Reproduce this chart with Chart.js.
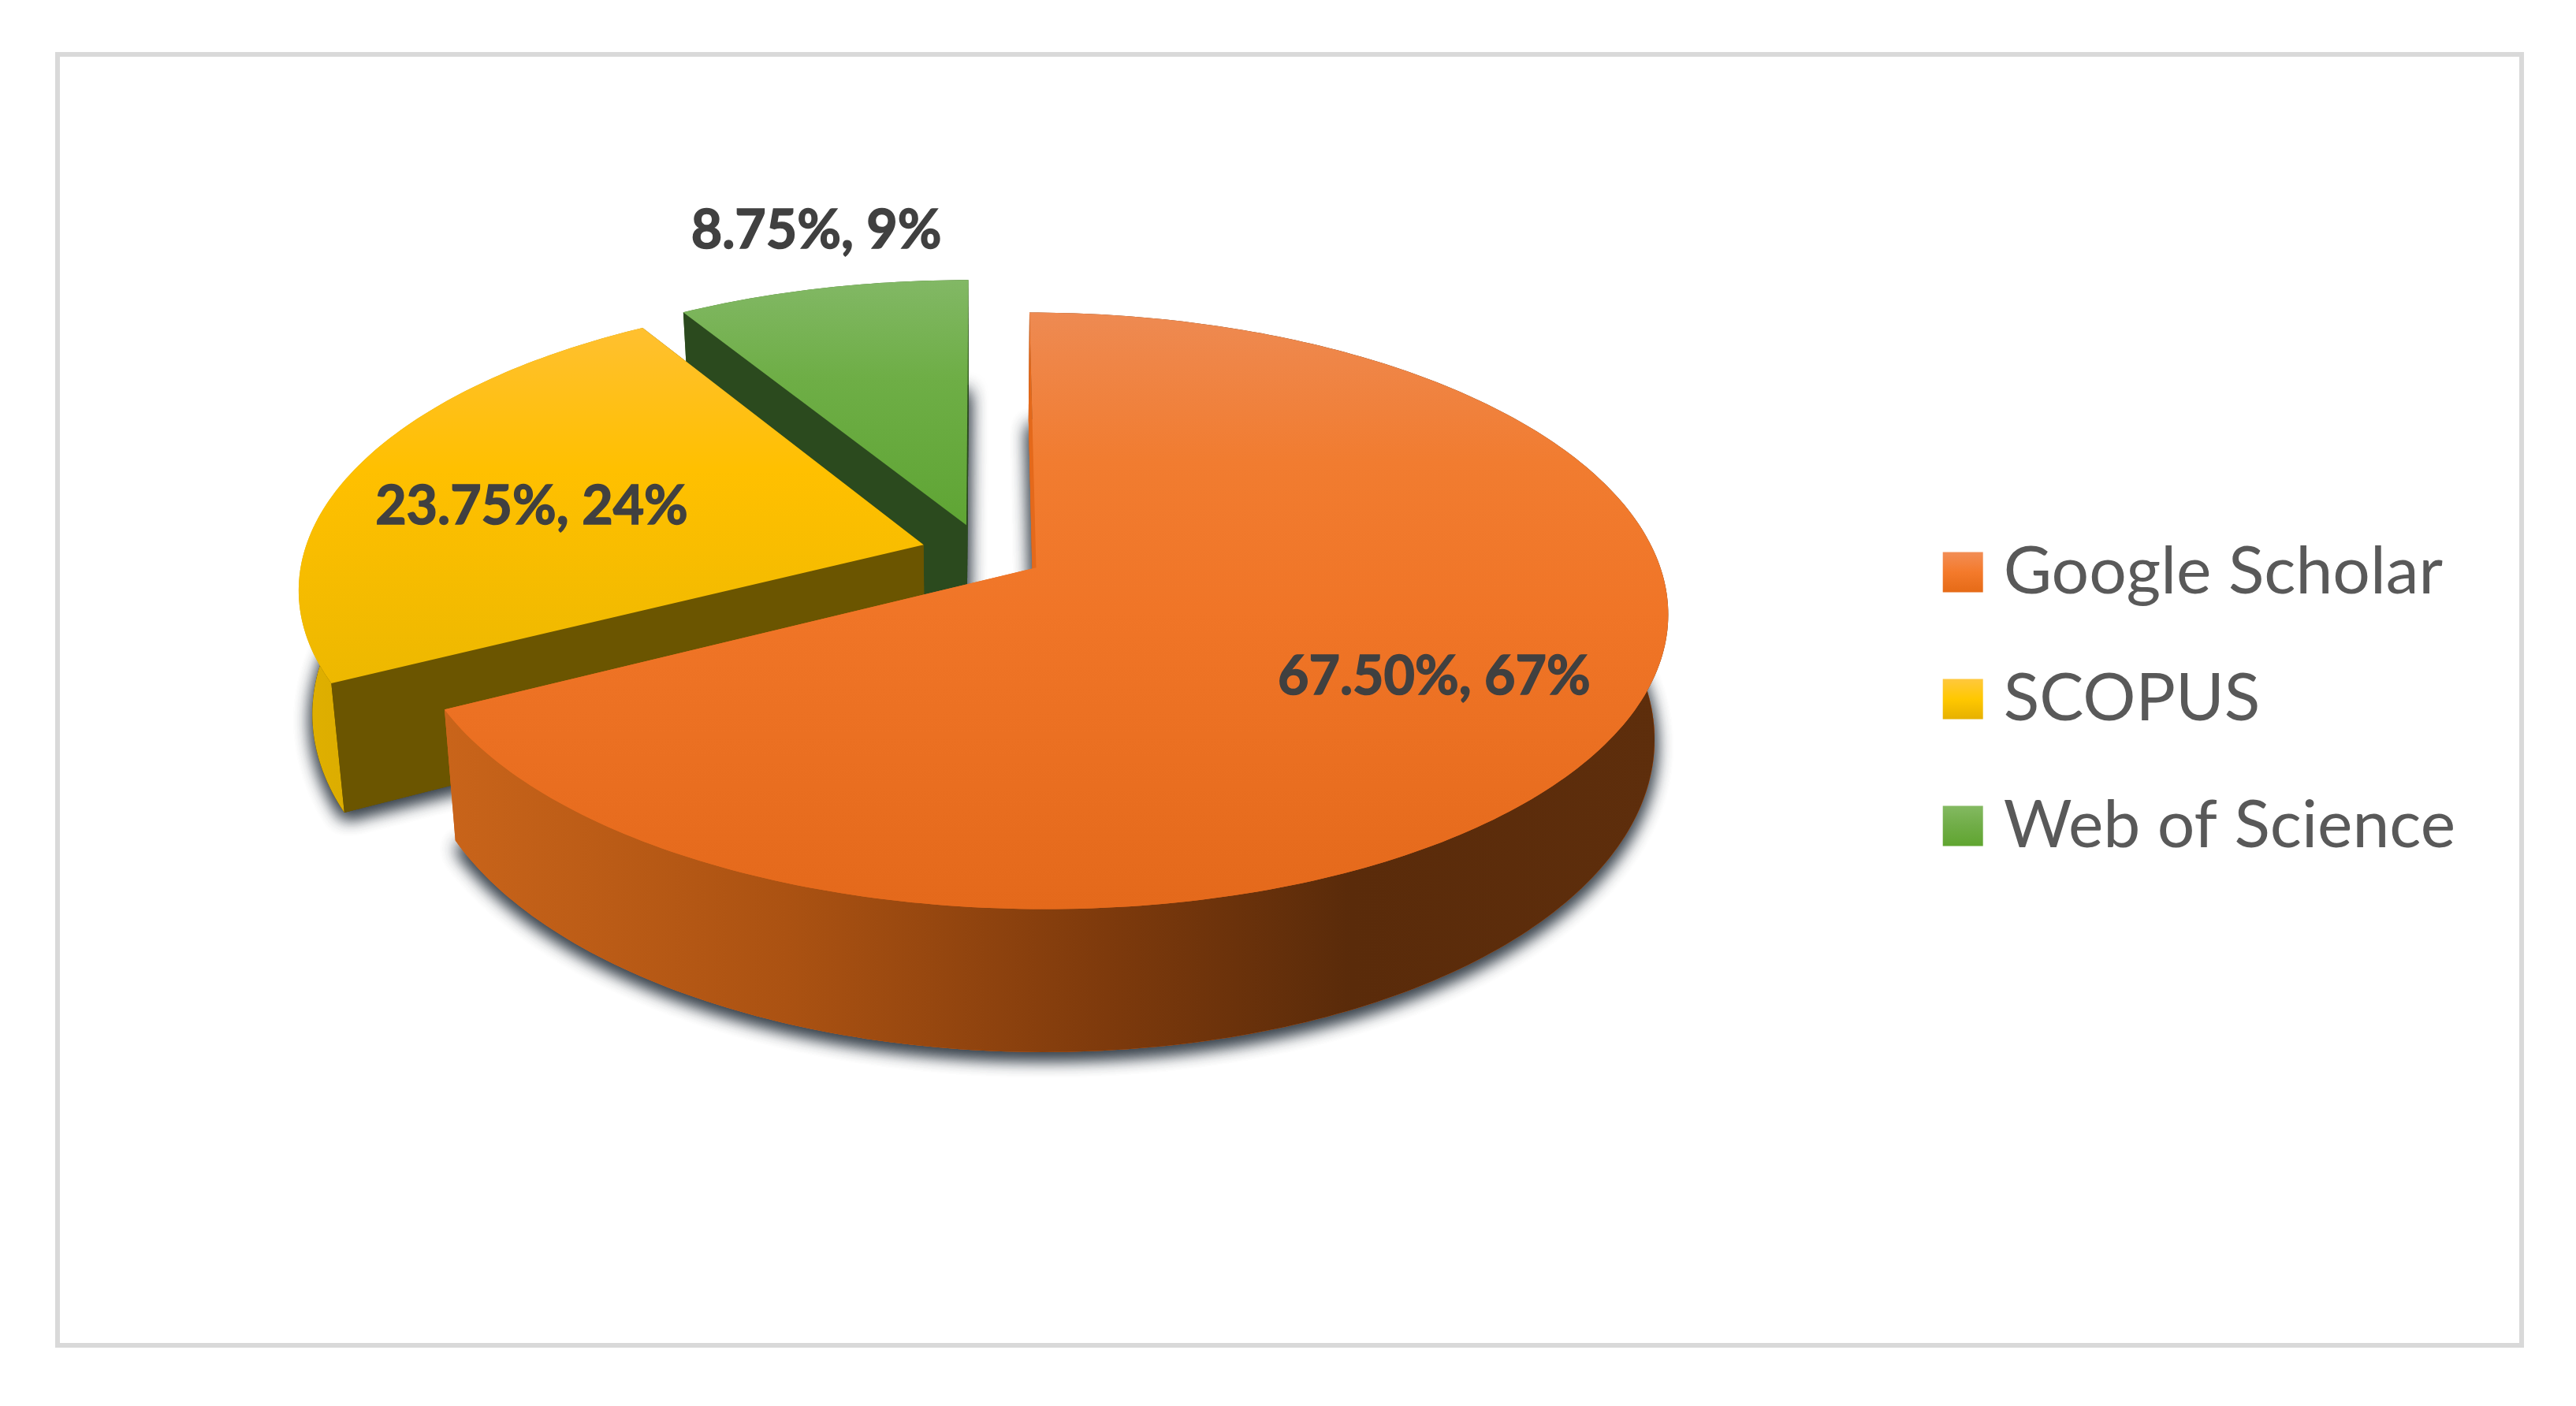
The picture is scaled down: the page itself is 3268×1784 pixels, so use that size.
<!DOCTYPE html>
<html>
<head>
<meta charset="utf-8">
<script src="https://cdn.jsdelivr.net/npm/chart.js@4"></script>
<style>
  html, body { margin: 0; background: #fff; }
  canvas { display: block; }
</style>
</head>
<body>
<canvas id="chart" width="3268" height="1784"></canvas>
<script>
const sources = ["Google Scholar", "SCOPUS", "Web of Science"];
const shareValues = [67.5, 23.75, 8.75];
const roundedPercents = [67, 24, 9];

// camera for the tilted pie, fitted to the picture
const cam = { x: 1247, y: 701, r: 786, ry: 365, persp: 0.1437, explode: 0.1, depth: 154, shrink: 0.98 };

// per slice looks, same order as sources
const topStops = [
  [[0, "#EE8A52"], [0.25, "#F17C30"], [0.5, "#F07527"], [1, "#E4691B"]],
  [[0, "#FFC030"], [0.4, "#FFC000"], [1, "#EDB800"]],
  [[0, "#82B865"], [0.4, "#6EAE46"], [1, "#5FA534"]]
];
const wallStops = [
  [[0, "#C9641A"], [0.28, "#AB5212"], [0.54, "#7E3A0C"], [0.74, "#5A2B0A"], [1, "#5E2E0C"]],
  [[0, "#E0B000"], [1, "#C29A00"]],
  [[0, "#4A7A30"], [1, "#3C6426"]]
];
const cutColors = ["#E4691B", "#6B5500", "#2B4A1E"];
const legendStops = [
  [[0, "#F28E57"], [0.5, "#F47A2B"], [1, "#E56A16"]],
  [[0, "#FFC83F"], [0.5, "#FFC800"], [1, "#E6B000"]],
  [[0, "#84BA62"], [0.5, "#70AD47"], [1, "#5FA52F"]]
];
const labelRadius = [0.698, 0.663, 1.27];
const labelTurn = [-0.8, -4, 2.4];

function project(mid, a, r, lower) {
  const u = cam.explode * Math.cos(mid) + r * Math.cos(a);
  const v = -(cam.explode * Math.sin(mid) + r * Math.sin(a));
  const w = 1 + cam.persp * v;
  let x = cam.x + cam.r * u / w;
  let y = cam.y - cam.ry * v / w;
  if (lower) {
    x = cam.x + (x - cam.x) * cam.shrink;
    y += cam.depth / w;
  }
  return [x, y];
}

function gradient(ctx, x0, y0, x1, y1, stops) {
  const g = ctx.createLinearGradient(x0, y0, x1, y1);
  stops.forEach(s => g.addColorStop(s[0], s[1]));
  return g;
}

function fillPoly(ctx, pts, fill) {
  ctx.beginPath();
  pts.forEach((p, i) => i ? ctx.lineTo(p[0], p[1]) : ctx.moveTo(p[0], p[1]));
  ctx.closePath();
  ctx.fillStyle = fill;
  ctx.fill();
}

const pie3d = {
  id: "pie3d",
  beforeDraw(chart) {
    const ctx = chart.ctx;
    ctx.save();
    ctx.strokeStyle = "#D9D9D9";
    ctx.lineWidth = 6;
    ctx.strokeRect(73, 69, 3126, 1638);
    ctx.restore();
    // gradient swatches in the legend
    const hits = chart.legend.legendHitBoxes;
    chart.legend.legendItems.forEach((item, i) => {
      const mid = hits[i].top + 42;
      item.fillStyle = gradient(ctx, 0, mid - 26, 0, mid + 26, legendStops[i]);
    });
  },
  beforeDatasetsDraw(chart) {
    const ctx = chart.ctx;
    const arcs = chart.getDatasetMeta(0).data;
    // back slices first so the big one sits in front
    [2, 1, 0].forEach(i => {
      const arc = arcs[i];
      const a0 = arc.startAngle, a1 = arc.endAngle, mid = (a0 + a1) / 2;
      const upper = [], lower = [];
      const steps = Math.ceil((a1 - a0) * 60);
      for (let s = 0; s <= steps; s++) {
        const a = a0 + (a1 - a0) * s / steps;
        upper.push(project(mid, a, 1, false));
        lower.push(project(mid, a, 1, true));
      }
      const apexUp = project(mid, 0, 0, false), apexLow = project(mid, 0, 0, true);

      ctx.save();
      ctx.shadowColor = "rgba(50,60,70,0.9)";
      ctx.shadowBlur = 22;
      ctx.shadowOffsetY = 8;
      fillPoly(ctx, [apexLow].concat(lower), cutColors[i]);
      fillPoly(ctx, [apexLow].concat(lower), cutColors[i]);
      ctx.restore();

      // far cut face, then the rim, then the near cut face
      fillPoly(ctx, [apexUp, upper[steps], lower[steps], apexLow], cutColors[i]);
      const xs = upper.concat(lower).map(p => p[0]);
      const wall = gradient(ctx, Math.min(...xs), 0, Math.max(...xs), 0, wallStops[i]);
      fillPoly(ctx, upper.concat(lower.slice().reverse()), wall);
      fillPoly(ctx, [apexUp, upper[0], lower[0], apexLow], cutColors[i]);

      const ys = upper.concat([apexUp]).map(p => p[1]);
      const face = gradient(ctx, 0, Math.min(...ys), 0, Math.max(...ys), topStops[i]);
      fillPoly(ctx, [apexUp].concat(upper), face);
    });
    return false;
  },
  afterDraw(chart) {
    const ctx = chart.ctx;
    const arcs = chart.getDatasetMeta(0).data;
    ctx.save();
    ctx.font = "bold 68px Lato";
    ctx.fillStyle = "#404040";
    ctx.strokeStyle = "#404040";
    ctx.lineWidth = 1.5;
    ctx.textAlign = "center";
    ctx.textBaseline = "middle";
    arcs.forEach((arc, i) => {
      const mid = (arc.startAngle + arc.endAngle) / 2;
      const p = project(mid, mid + labelTurn[i] * Math.PI / 180, labelRadius[i], false);
      const text = shareValues[i].toFixed(2) + "%, " + roundedPercents[i] + "%";
      ctx.strokeText(text, p[0], p[1]);
      ctx.fillText(text, p[0], p[1]);
    });
    ctx.restore();
  }
};

new Chart(document.getElementById("chart"), {
  type: "pie",
  data: {
    labels: sources,
    datasets: [{ data: shareValues, backgroundColor: ["#ED7D31", "#FFC000", "#70AD47"], borderWidth: 0 }]
  },
  plugins: [pie3d],
  options: {
    responsive: false,
    animation: false,
    devicePixelRatio: 1,
    layout: { padding: { right: 143, bottom: 10 } },
    plugins: {
      tooltip: { enabled: false },
      legend: {
        position: "right",
        labels: {
          usePointStyle: true,
          pointStyle: "rect",
          boxWidth: 19,
          boxHeight: 51,
          padding: 77,
          color: "#595959",
          font: { family: "Lato", size: 84 },
          generateLabels(chart) {
            return sources.map((s, i) => ({
              text: s, fillStyle: "#ED7D31", strokeStyle: "transparent", lineWidth: 0,
              pointStyle: "rect", fontColor: "#595959", index: i
            }));
          }
        }
      }
    }
  }
});
</script>
</body>
</html>
